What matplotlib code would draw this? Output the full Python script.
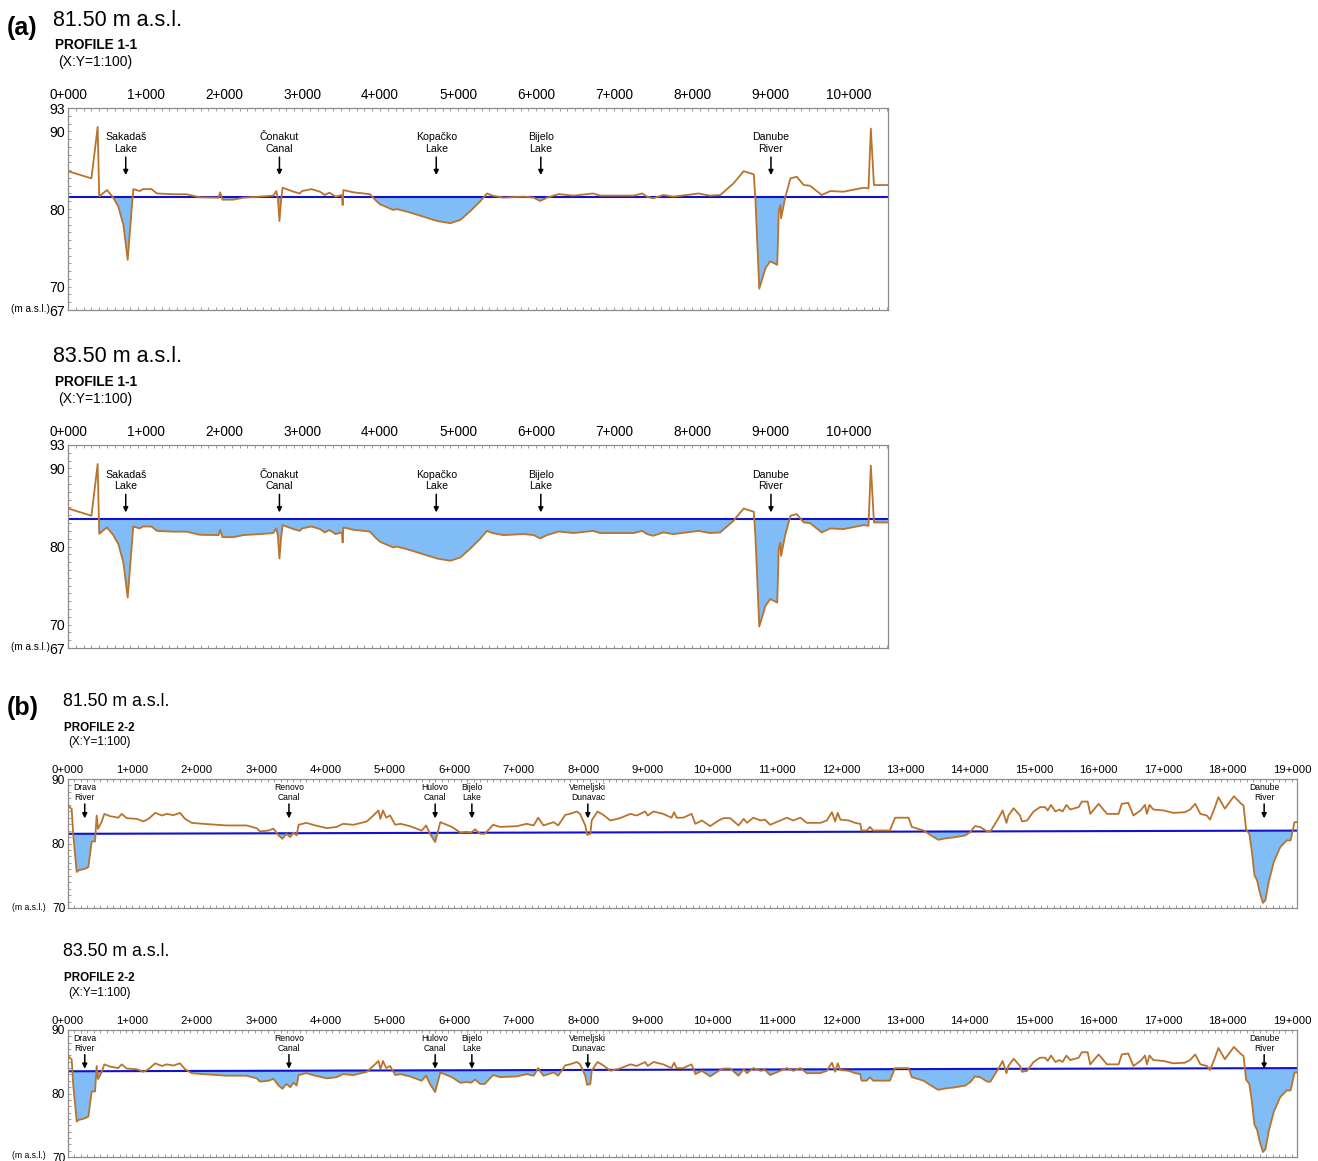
import matplotlib.pyplot as plt
import numpy as np
from matplotlib.ticker import MultipleLocator

plt.rcParams['font.family'] = ['Liberation Sans', 'DejaVu Sans']

W, H = 1318, 1161

# Profile 1-1: chainage (km) and ground elevation (m a.s.l.)
p1_km = [0.00, 0.30, 0.35, 0.38, 0.40, 0.50, 0.58, 0.645, 0.71, 0.765, 0.817, 0.837,
         0.92, 0.96, 1.07, 1.14, 1.35, 1.52, 1.69, 1.93, 1.95, 1.98, 2.12, 2.25, 2.46,
         2.63, 2.67, 2.69, 2.71, 2.73, 2.75, 2.80, 2.89, 2.97, 3.00, 3.12, 3.23, 3.29,
         3.35, 3.43, 3.51, 3.52, 3.53, 3.66, 3.79, 3.87, 3.94, 4.00, 4.17, 4.21, 4.34,
         4.51, 4.73, 4.90, 5.03, 5.15, 5.28, 5.37, 5.44, 5.58, 5.84, 5.97, 6.05, 6.14,
         6.29, 6.48, 6.73, 6.82, 7.25, 7.36, 7.42, 7.50, 7.63, 7.76, 7.93, 8.08, 8.23,
         8.36, 8.53, 8.66, 8.79, 8.81, 8.86, 8.94, 9.00, 9.09, 9.11, 9.13, 9.14, 9.19,
         9.26, 9.34, 9.43, 9.51, 9.66, 9.77, 9.94, 10.20, 10.26, 10.29, 10.33, 10.51]
p1_z = [84.87, 83.94, 88.04, 90.56, 81.63, 82.44, 81.46, 80.31, 77.95, 73.46, 80.09, 82.56,
        82.31, 82.56, 82.56, 82.00, 81.90, 81.90, 81.50, 81.46, 82.14, 81.20, 81.20, 81.46, 81.59,
        81.72, 82.31, 81.37, 78.46, 80.95, 82.74, 82.56, 82.23, 82.00, 82.31, 82.56, 82.23, 81.80,
        82.10, 81.59, 81.80, 80.51, 82.44, 82.14, 82.00, 81.90, 81.15, 80.60, 79.87, 80.00, 79.67,
        79.15, 78.46, 78.17, 78.60, 79.67, 80.95, 82.00, 81.72, 81.46, 81.59, 81.46, 81.03, 81.46,
        81.92, 81.72, 82.00, 81.72, 81.72, 82.00, 81.59, 81.37, 81.80, 81.59, 81.80, 82.00, 81.72,
        81.80, 83.30, 84.87, 84.45, 81.37, 69.74, 72.40, 73.26, 72.82, 79.67, 80.51, 78.80, 81.37,
        83.94, 84.15, 83.08, 83.00, 81.80, 82.31, 82.23, 82.74, 82.65, 90.35, 83.08, 83.08]
p1_places = ['Sakadaš\nLake', 'Čonakut\nCanal', 'Kopačko\nLake', 'Bijelo\nLake', 'Danube\nRiver']
p1_place_km = [0.74, 2.71, 4.72, 6.06, 9.01]
p1_ticks = ['%d+000' % i for i in range(11)]

# Profile 2-2
p2_km = [0.00, 0.057, 0.08, 0.135, 0.166, 0.264, 0.316, 0.368, 0.42, 0.445, 0.466, 0.52,
         0.564, 0.652, 0.78, 0.834, 0.911, 1.067, 1.17, 1.25, 1.354, 1.458, 1.533, 1.636,
         1.739, 1.817, 1.92, 2.10, 2.31, 2.46, 2.77, 2.93, 2.98, 3.11, 3.19, 3.27, 3.33,
         3.39, 3.45, 3.50, 3.55, 3.58, 3.70, 3.84, 4.02, 4.17, 4.27, 4.43, 4.64, 4.74, 4.82,
         4.85, 4.89, 4.94, 5.00, 5.08, 5.16, 5.31, 5.49, 5.56, 5.62, 5.70, 5.78, 5.96, 6.09,
         6.19, 6.26, 6.32, 6.40, 6.47, 6.60, 6.71, 6.97, 7.12, 7.23, 7.30, 7.38, 7.54, 7.61,
         7.72, 7.79, 7.90, 7.95, 8.03, 8.06, 8.11, 8.13, 8.22, 8.31, 8.42, 8.57, 8.73, 8.83,
         8.96, 9.00, 9.09, 9.24, 9.37, 9.41, 9.45, 9.55, 9.68, 9.74, 9.84, 9.97, 10.10,
         10.18, 10.28, 10.41, 10.49, 10.54, 10.64, 10.75, 10.82, 10.90, 11.16, 11.26, 11.37,
         11.47, 11.68, 11.78, 11.86, 11.91, 11.95, 11.99, 12.12, 12.22, 12.30, 12.32, 12.40,
         12.45, 12.50, 12.76, 12.84, 13.05, 13.10, 13.28, 13.36, 13.51, 13.64, 13.75, 13.93,
         14.01, 14.08, 14.16, 14.27, 14.32, 14.45, 14.51, 14.57, 14.60, 14.68, 14.78, 14.81,
         14.89, 14.99, 15.09, 15.17, 15.21, 15.26, 15.33, 15.39, 15.44, 15.50, 15.56, 15.69,
         15.74, 15.83, 15.87, 16.00, 16.13, 16.31, 16.36, 16.46, 16.54, 16.65, 16.72, 16.75,
         16.79, 16.85, 17.01, 17.16, 17.34, 17.42, 17.50, 17.58, 17.68, 17.73, 17.80, 17.86,
         17.96, 18.10, 18.20, 18.25, 18.29, 18.34, 18.38, 18.42, 18.46, 18.50, 18.55, 18.59,
         18.64, 18.72, 18.82, 18.92, 18.98, 19.02, 19.04, 19.08]
p2_z = [85.89, 85.36, 81.50, 75.58, 75.84, 76.09, 76.35, 80.32, 80.32, 84.34, 82.27, 83.31,
        84.59, 84.24, 84.00, 84.59, 83.93, 83.82, 83.42, 83.82, 84.75, 84.34, 84.59, 84.40,
        84.75, 83.82, 83.20, 83.05, 82.90, 82.80, 82.80, 82.38, 81.87, 82.00, 82.30, 81.25, 80.73,
        81.50, 80.99, 81.70, 81.25, 82.90, 83.20, 82.80, 82.38, 82.57, 83.05, 82.90, 83.42, 84.34, 85.12,
        83.82, 85.12, 84.00, 84.34, 82.90, 83.05, 82.69, 82.00, 82.80, 81.50, 80.22, 83.31, 82.57, 81.70,
        81.80, 81.70, 82.20, 81.50, 81.50, 82.90, 82.57, 82.69, 83.05, 82.80, 84.00, 82.80, 83.31, 82.80,
        84.44, 84.59, 84.96, 84.59, 82.80, 81.35, 81.50, 83.57, 84.96, 84.44, 83.57, 83.93, 84.59, 84.34,
        84.96, 84.34, 84.96, 84.59, 84.00, 84.85, 84.00, 84.00, 84.59, 83.05, 83.57, 82.69, 83.57,
        83.93, 83.93, 82.80, 83.82, 83.20, 84.00, 83.57, 83.70, 82.90, 84.00, 83.57, 84.00,
        83.20, 83.20, 83.57, 84.85, 83.42, 84.75, 83.70, 83.57, 83.20, 83.05, 82.02, 82.02,
        82.57, 82.02, 82.02, 84.00, 84.00, 82.57, 82.02, 81.50, 80.57, 80.83, 80.94, 81.25,
        81.80, 82.69, 82.57, 81.87, 81.87, 84.00, 85.12, 83.20, 84.34, 85.47, 84.34, 83.42,
        83.57, 84.96, 85.64, 85.64, 85.12, 85.98, 84.96, 85.27, 84.96, 85.98, 85.27, 85.64,
        86.50, 86.50, 84.59, 86.15, 84.59, 84.59, 86.15, 86.30, 84.34, 85.12, 85.98, 84.59,
        85.98, 85.27, 85.12, 84.75, 84.85, 85.27, 86.15, 84.59, 84.34, 83.70, 85.47, 87.17,
        85.40, 87.33, 86.30, 85.89, 82.17, 81.50, 78.67, 75.07, 74.30, 72.49, 70.79, 71.20,
        74.03, 77.13, 79.44, 80.48, 80.48, 82.27, 83.31, 83.31]
p2_places = ['Drava\nRiver', 'Renovo\nCanal', 'Hulovo\nCanal', 'Bijelo\nLake',
             'Vemeljski\nDunavac', 'Danube\nRiver']
p2_place_km = [0.26, 3.43, 5.70, 6.27, 8.07, 18.57]
p2_ticks = ['%d+000' % i for i in range(20)]

# water surface at the start and end of each profile
p1_level_start = [81.5, 83.5]
p1_level_end = [81.5, 83.5]
p2_level_start = [81.5, 83.5]
p2_level_end = [82.0, 84.0]
level_titles = ['81.50 m a.s.l.', '83.50 m a.s.l.']

GROUND = '#b8732c'
WATER = '#80bdf7'
SURFACE = '#1212c8'
FRAME = '#8c8c8c'


def box(left, top, right, bottom):
    return [left / W, 1 - bottom / H, (right - left) / W, (bottom - top) / H]


def fig_text(x, y, s, **kw):
    fig.text(x / W, 1 - y / H, s, va='center', **kw)


def draw_profile(ax, km, z, wl0, wl1, xmax, ylim, yticks, ticks, places, place_km,
                 tick_fs, label_fs, place_fs, arrow_y, xpad):
    km = np.array(km)
    z = np.array(z)
    x_end = km[-1]
    level = wl0 + (wl1 - wl0) * km / x_end

    ax.fill_between(km, z, level, where=z < level, interpolate=True,
                    color=WATER, lw=0, zorder=1)
    ax.plot([0, xmax], [wl0, wl0 + (wl1 - wl0) * xmax / x_end], color=SURFACE, lw=1.5, zorder=2)
    ax.plot(km, z, color=GROUND, lw=1.3, zorder=3)

    ax.set_xlim(0, xmax)
    ax.set_ylim(*ylim)

    ax.xaxis.tick_top()
    ax.set_xticks(range(len(ticks)))
    ax.set_xticklabels(ticks, fontsize=tick_fs)
    ax.xaxis.set_minor_locator(MultipleLocator(0.1))
    ax.tick_params(axis='x', which='both', top=True, bottom=True, direction='in',
                   length=2, width=0.6, color=FRAME, labeltop=True, labelbottom=False, pad=xpad)

    ax.set_yticks(yticks)
    ax.set_yticklabels([str(v) for v in yticks], fontsize=label_fs)
    ax.yaxis.set_minor_locator(MultipleLocator(1))
    ax.tick_params(axis='y', which='both', direction='in', length=2, width=0.6,
                   color=FRAME, pad=2)
    for sp in ax.spines.values():
        sp.set_color(FRAME)
        sp.set_linewidth(0.9)

    # labels of the water bodies with arrows pointing to them
    tr = ax.get_xaxis_transform()
    txt_y, tail_y, tip_y = arrow_y
    for name, k in zip(places, place_km):
        ax.text(k, txt_y, name, transform=tr, ha='center', va='center',
                fontsize=place_fs, linespacing=1.15, zorder=4)
        ax.annotate('', xy=(k, tip_y), xytext=(k, tail_y), xycoords=tr, textcoords=tr,
                    arrowprops=dict(arrowstyle='-|>', color='black', lw=1.1,
                                    mutation_scale=7, shrinkA=0, shrinkB=0), zorder=4)


fig = plt.figure(figsize=(W / 100, H / 100), dpi=100)

# (a) profile 1-1
a_boxes = [(68, 108, 888, 310), (68, 445, 888, 648)]
a_heads = [(20, 45, 62), (357, 382, 399)]
for i in range(2):
    ax = fig.add_axes(box(*a_boxes[i]))
    draw_profile(ax, p1_km, p1_z, p1_level_start[i], p1_level_end[i], 10.51, (67, 93),
                 [67, 70, 80, 90, 93], p1_ticks, p1_places, p1_place_km,
                 9.8, 10.2, 7.6, (0.827, 0.757, 0.668), 4.5)
    t, p, s = a_heads[i]
    fig_text(53, t, level_titles[i], fontsize=15.5)
    fig_text(55, p, 'PROFILE 1-1', fontsize=9.8, fontweight='bold')
    fig_text(58, s, '(X:Y=1:100)', fontsize=10)
    fig_text(50, a_boxes[i][3] - 1, '(m a.s.l.)', fontsize=7.2, ha='right')

fig_text(7, 28, '(a)', fontsize=18, fontweight='bold')

# (b) profile 2-2
b_boxes = [(68, 779, 1297, 908), (68, 1030, 1297, 1157)]
b_heads = [(702, 728, 742), (952, 978, 993)]
for i in range(2):
    ax = fig.add_axes(box(*b_boxes[i]))
    draw_profile(ax, p2_km, p2_z, p2_level_start[i], p2_level_end[i], 19.08, (70, 90),
                 [70, 80, 90], p2_ticks, p2_places, p2_place_km,
                 8.2, 8.6, 6.2, (0.895, 0.806, 0.695), 3)
    t, p, s = b_heads[i]
    fig_text(63, t, level_titles[i], fontsize=12.8)
    fig_text(64, p, 'PROFILE 2-2', fontsize=8.4, fontweight='bold')
    fig_text(68, s, '(X:Y=1:100)', fontsize=8.4)
    fig_text(46, b_boxes[i][3] - 1, '(m a.s.l.)', fontsize=6.2, ha='right')

fig_text(7, 708, '(b)', fontsize=18, fontweight='bold')

fig.savefig('out.png', dpi=100)
